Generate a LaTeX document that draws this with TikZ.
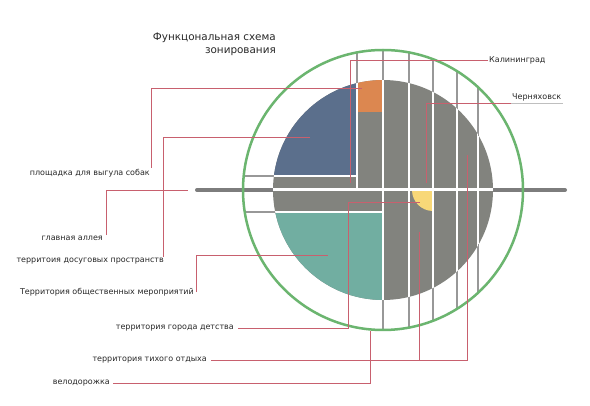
\documentclass[tikz,border=0pt]{standalone}
\usepackage{fontspec}
\setmainfont{DejaVu Sans}
\definecolor{ring}{RGB}{107,181,111}
\definecolor{zblue}{RGB}{91,111,140}
\definecolor{zorange}{RGB}{220,135,80}
\definecolor{zgray}{RGB}{130,131,126}
\definecolor{zteal}{RGB}{113,174,161}
\definecolor{zyellow}{RGB}{248,216,120}
\definecolor{lead}{RGB}{200,96,110}
\definecolor{lgray}{RGB}{152,152,152}
\definecolor{bargray}{RGB}{125,125,125}
\definecolor{txt}{RGB}{40,40,40}
\tikzset{
  leader/.style={lead, line width=0.7pt},
  faint/.style={black!25, line width=0.6pt},
  lbl/.style={font=\fontsize{8}{9.6}\selectfont, inner sep=1pt, text=txt},
  ttl/.style={font=\fontsize{10.4}{12}\selectfont, inner sep=0pt, text=txt},
  outline/.style={lgray, line width=2pt},
  inline/.style={white, line width=2pt},
}
\begin{document}
\begin{tikzpicture}[x=1pt,y=-1pt]
\useasboundingbox (0,0) rectangle (590,406);
\fill[white] (0,0) rectangle (590,406);

% main alley bar
\draw[bargray, line width=4pt, line cap=round] (197,190) -- (565,190);

% grey lines between disk and ring
\draw[outline] (357,52.4) -- (357,150);
\foreach \x/\a/\b in {383/50/330, 409/52.4/327.6, 433/59.2/320.8, 457/71.2/308.8, 478/87.2/292.8}
  \draw[outline] (\x,\a) -- (\x,\b);
\draw[outline] (243.7,176) -- (300,176);
\draw[outline] (244.7,212) -- (300,212);

% zoned disk
\begin{scope}
  \clip (383,190) circle[radius=110];
  \fill[zgray] (270,75) rectangle (500,305);
  \fill[zblue] (270,75) rectangle (357,176);
  \fill[zorange] (357,75) rectangle (383,112);
  \fill[zteal] (270,212) rectangle (383,305);
  \begin{scope}
    \clip (409,190) rectangle (433,215);
    \fill[zyellow] (433,190) circle[radius=21];
  \end{scope}
  \draw[inline] (357,70) -- (357,190);
  \foreach \x in {383,409,433,457,478}
    \draw[inline] (\x,70) -- (\x,310);
  \draw[inline] (260,176) -- (357,176);
  \draw[inline] (260,212) -- (383,212);
  \draw[white, line width=3pt] (260,190) -- (500,190);
\end{scope}

% cycle path ring
\draw[ring, line width=2.5pt] (383,190) circle[radius=140];

% title
\node[ttl, anchor=base east] (t1) at (276,41) {Функцональная схема};
\node[ttl, anchor=base east] (t2) at (276,54) {зонирования};

% labels
\node[lbl, anchor=base west] (kal) at (488,62.5) {Калининград};
\node[lbl, anchor=base west] (cher) at (511,100) {Черняховск};
\node[lbl, anchor=base east] (dog) at (151,175.3) {площадка для выгула собак};
\node[lbl, anchor=base east] (alley) at (104,240.8) {главная аллея};
\node[lbl, anchor=base east] (leis) at (165,262.3) {территоия досуговых пространств};
\node[lbl, anchor=base east] (events) at (195,294.3) {Территория общественных мероприятий};
\node[lbl, anchor=base east] (child) at (235,329.5) {территория города детства};
\node[lbl, anchor=base east] (quiet) at (208,361.8) {территория тихого отдыха};
\node[lbl, anchor=base east] (bike) at (111,385) {велодорожка};

% leader end points
\coordinate (kalEnd) at (350,183);
\coordinate (cherEnd) at (426,183);
\coordinate (dogEnd) at (362,88);
\coordinate (leisEnd) at (310,137.4);
\coordinate (alleyEnd) at (188,190);
\coordinate (eventsEnd) at (328,255);
\coordinate (childTurn) at (348,202);
\coordinate (childEnd) at (420,202);
\coordinate (quietEndA) at (467,155);
\coordinate (quietEndB) at (419,232);
\coordinate (bikeEnd) at (370,331);

% leaders
\draw[leader] (kal.west) -| (kalEnd);
\draw[faint] (cher.south west) -- (cher.south east);
\draw[leader] (cher.south west) -| (cherEnd);
\draw[leader] (dog.north east) |- (dogEnd);
\draw[leader] ([xshift=-2pt]leis.north east) |- (leisEnd);
\draw[leader] ([xshift=2pt]alley.north east) |- (alleyEnd);
\draw[leader] ([xshift=1.5pt]events.east) |- (eventsEnd);
\draw[leader] ([xshift=3pt]child.east) -| (childTurn) -- (childEnd);
\draw[leader] ([xshift=3pt]quiet.east) -| (quietEndA);
\draw[leader] (quietEndB) |- ([xshift=3pt]quiet.east);
\draw[leader] ([xshift=2pt]bike.east) -| (bikeEnd);
\end{tikzpicture}
\end{document}
